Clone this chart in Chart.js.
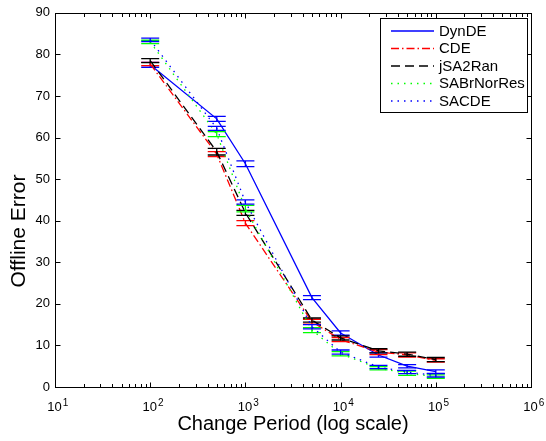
<!DOCTYPE html>
<html><head><meta charset="utf-8">
<script src="https://cdn.jsdelivr.net/npm/chart.js@4.4.0/dist/chart.umd.min.js"></script>
<style>html,body{margin:0;padding:0;background:#fff;overflow:hidden}</style>
</head><body>
<canvas id="c" width="546" height="441" style="width:546px;height:441px;display:block"></canvas>
<script>
// ---- data ----
const changePeriods = [100, 500, 1000, 5000, 10000, 25000, 50000, 100000];
const seriesNames = ['DynDE', 'CDE', 'jSA2Ran', 'SABrNorRes', 'SACDE'];
const dynDE      = [77.5, 64.5, 53.7, 21.5, 13.0, 7.7, 5.0, 3.7];
const dynDEErr   = [0.6, 0.6, 0.7, 0.5, 0.5, 0.5, 0.4, 0.4];
const cde        = [77.7, 56.0, 39.4, 15.7, 11.4, 8.4, 7.7, 6.4];
const cdeErr     = [0.4, 0.6, 0.6, 0.6, 0.5, 0.6, 0.5, 0.4];
const jsa2ran    = [78.5, 56.6, 41.9, 16.1, 11.8, 8.7, 7.9, 6.6];
const jsa2ranErr = [0.5, 0.8, 0.6, 0.5, 0.5, 0.5, 0.5, 0.5];
const sabr       = [83.0, 60.8, 42.9, 13.7, 8.0, 4.5, 3.3, 2.5];
const sabrErr    = [0.4, 0.6, 0.8, 0.6, 0.5, 0.4, 0.5, 0.4];
const sacde      = [83.5, 62.2, 44.5, 14.5, 8.4, 4.8, 3.6, 2.8];
const sacdeErr   = [0.4, 0.5, 0.5, 0.5, 0.5, 0.4, 0.4, 0.4];
const xTickExponents = [1, 2, 3, 4, 5, 6];
const yTickValues = [0, 10, 20, 30, 40, 50, 60, 70, 80, 90];
const xTitle = 'Change Period (log scale)';
const yTitle = 'Offline Error';

const FONT = "'Liberation Sans', Arial, Helvetica, sans-serif";
const values = [dynDE, cde, jsa2ran, sabr, sacde];
const errors = [dynDEErr, cdeErr, jsa2ranErr, sabrErr, sacdeErr];
const colors = ['#0000ff', '#ff0000', '#000000', '#00ff00', '#0000ff'];
const dashes = [[], [8, 3, 1.5, 3], [9, 5], [1.5, 5], [1.5, 5]];

const datasets = seriesNames.map((name, i) => ({
  label: name,
  data: changePeriods.map((x, j) => ({x: x, y: values[i][j]})),
  errorBars: errors[i],
  borderColor: colors[i],
  backgroundColor: colors[i],
  borderDash: dashes[i],
  borderWidth: 1.3,
  pointRadius: 0,
  tension: 0,
  fill: false,
  order: seriesNames.length - i
}));

const matlabPlugin = {
  id: 'matlab',
  afterDatasetDraw(chart, args) {
    const ds = chart.data.datasets[args.index];
    const xs = chart.scales.x, ys = chart.scales.y, ctx = chart.ctx;
    ctx.save();
    ctx.strokeStyle = ds.borderColor;
    ctx.lineWidth = 1.3;
    ctx.setLineDash([]);
    ds.data.forEach((p, i) => {
      const e = ds.errorBars[i];
      const px = xs.getPixelForValue(p.x);
      const t = ys.getPixelForValue(p.y + e), b = ys.getPixelForValue(p.y - e);
      ctx.beginPath();
      ctx.moveTo(px, t); ctx.lineTo(px, b);
      ctx.moveTo(px - 9, t); ctx.lineTo(px + 9, t);
      ctx.moveTo(px - 9, b); ctx.lineTo(px + 9, b);
      ctx.stroke();
    });
    ctx.restore();
  },
  afterDraw(chart) {
    const ctx = chart.ctx, a = chart.chartArea;
    const xs = chart.scales.x, ys = chart.scales.y;
    const L = Math.round(a.left) + 0.5, R = Math.round(a.right) + 0.5;
    const T = Math.round(a.top) + 0.5, B = Math.round(a.bottom) + 0.5;
    ctx.save();
    ctx.strokeStyle = '#000';
    ctx.lineWidth = 1;
    ctx.setLineDash([]);
    ctx.strokeRect(L, T, R - L, B - T);
    ctx.beginPath();
    // y ticks
    yTickValues.forEach(v => {
      const py = Math.round(ys.getPixelForValue(v)) + 0.5;
      ctx.moveTo(L, py); ctx.lineTo(L + 5, py);
      ctx.moveTo(R, py); ctx.lineTo(R - 5, py);
    });
    // x ticks (major + minor)
    xTickExponents.forEach((e, k) => {
      const px = Math.round(xs.getPixelForValue(Math.pow(10, e))) + 0.5;
      ctx.moveTo(px, B); ctx.lineTo(px, B - 5);
      ctx.moveTo(px, T); ctx.lineTo(px, T + 5);
      if (k < xTickExponents.length - 1) {
        for (let m = 2; m <= 9; m++) {
          const qx = Math.round(xs.getPixelForValue(m * Math.pow(10, e))) + 0.5;
          ctx.moveTo(qx, B); ctx.lineTo(qx, B - 3.5);
          ctx.moveTo(qx, T); ctx.lineTo(qx, T + 3.5);
        }
      }
    });
    ctx.stroke();
    // x tick labels 10^e
    ctx.fillStyle = '#000';
    ctx.textBaseline = 'alphabetic';
    xTickExponents.forEach(e => {
      const px = xs.getPixelForValue(Math.pow(10, e));
      ctx.font = '13px ' + FONT;
      const wb = ctx.measureText('10').width;
      ctx.textAlign = 'left';
      ctx.fillText('10', px - wb / 2 - 0.5, B + 23);
      ctx.font = '10px ' + FONT;
      ctx.fillText(String(e), px + wb / 2 + 0.5, B + 18);
    });
    // y axis title
    ctx.save();
    ctx.font = '21px ' + FONT;
    ctx.textAlign = 'center';
    ctx.textBaseline = 'alphabetic';
    ctx.translate(25, 231);
    ctx.rotate(-Math.PI / 2);
    ctx.fillText(yTitle, 0, 0);
    ctx.restore();
    // legend
    const lx = 380.5, ly = 18.5, lw = 147, lh = 94;
    ctx.fillStyle = '#fff';
    ctx.fillRect(lx, ly, lw, lh);
    ctx.strokeStyle = '#000';
    ctx.lineWidth = 1;
    ctx.strokeRect(lx, ly, lw, lh);
    ctx.font = '15px ' + FONT;
    ctx.textBaseline = 'middle';
    ctx.textAlign = 'left';
    chart.data.datasets.forEach((ds, i) => {
      const y = 31 + i * 17.5;
      ctx.strokeStyle = ds.borderColor;
      ctx.lineWidth = 1.3;
      ctx.setLineDash(ds.borderDash);
      ctx.beginPath();
      ctx.moveTo(391, y); ctx.lineTo(434, y);
      ctx.stroke();
      ctx.setLineDash([]);
      ctx.fillStyle = '#000';
      ctx.fillText(ds.label, 439, y + 0.5);
    });
    ctx.restore();
  }
};

new Chart(document.getElementById('c'), {
  type: 'line',
  data: {datasets: datasets},
  plugins: [matlabPlugin],
  options: {
    responsive: false,
    devicePixelRatio: 1,
    animation: false,
    layout: {padding: {left: 0, right: 15, top: 12, bottom: 0}},
    plugins: {legend: {display: false}, tooltip: {enabled: false}},
    scales: {
      x: {
        type: 'logarithmic', min: 10, max: 1000000,
        grid: {display: false}, border: {display: false},
        ticks: {display: false},
        afterFit(s) { s.height = 54; },
        title: {display: true, text: xTitle, color: '#000',
                font: {family: FONT, size: 20}, padding: {top: 0, bottom: 5}}
      },
      y: {
        type: 'linear', min: 0, max: 90,
        grid: {display: false, drawTicks: false}, border: {display: false},
        ticks: {stepSize: 10, color: '#000', font: {family: FONT, size: 13}, padding: 5},
        afterFit(s) { s.width = 55; },
        title: {display: false, text: yTitle}
      }
    }
  }
});
</script>
</body></html>
